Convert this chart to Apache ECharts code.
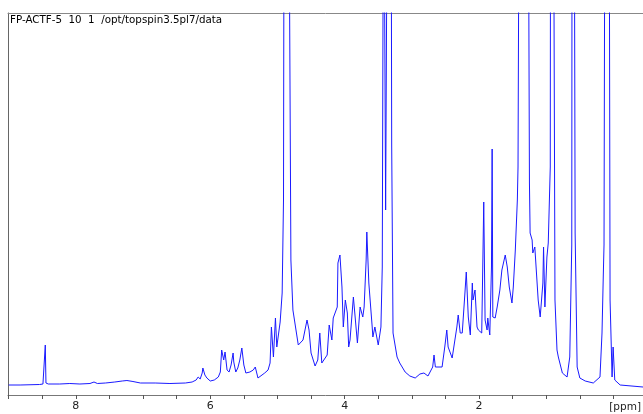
<!DOCTYPE html>
<html>
<head>
<meta charset="utf-8">
<script src="https://cdn.jsdelivr.net/npm/echarts@6/dist/echarts.min.js"></script>
<style>
  html, body { margin: 0; padding: 0; background: #fff; }
  #chart { width: 643px; height: 414px; }
</style>
</head>
<body>
<div id="chart"></div>
<script>
// chemical shift (ppm) from left to right
let shifts = [
    9.00, 8.83, 8.54, 8.49, 8.465, 8.455, 8.445, 8.41, 8.24, 8.09, 7.94, 7.79, 7.73, 7.68,
    7.56, 7.42, 7.31, 7.24, 7.15, 7.04, 6.82, 6.60, 6.37, 6.27, 6.21, 6.18, 6.15, 6.12,
    6.11, 6.08, 6.05, 6.00, 5.94, 5.88, 5.85, 5.83, 5.81, 5.80, 5.78, 5.75, 5.72, 5.69,
    5.66, 5.65, 5.62, 5.59, 5.56, 5.53, 5.50, 5.47, 5.41, 5.36, 5.33, 5.29, 5.23, 5.19,
    5.14, 5.11, 5.09, 5.06, 5.03, 5.01, 4.96, 4.93, 4.91, 4.90, 4.86, 4.83, 4.82, 4.80,
    4.77, 4.69, 4.62, 4.56, 4.53, 4.50, 4.44, 4.40, 4.37, 4.34, 4.26, 4.23, 4.19, 4.17,
    4.11, 4.10, 4.07, 4.04, 4.02, 3.99, 3.96, 3.94, 3.92, 3.87, 3.81, 3.77, 3.73, 3.71,
    3.68, 3.67, 3.64, 3.59, 3.58, 3.55, 3.50, 3.46, 3.44, 3.42, 3.405, 3.39, 3.36, 3.31,
    3.30, 3.28, 3.22, 3.18, 3.10, 3.03, 2.95, 2.88, 2.82, 2.76, 2.69, 2.67, 2.65, 2.55,
    2.51, 2.48, 2.46, 2.40, 2.33, 2.31, 2.28, 2.25, 2.21, 2.19, 2.18, 2.16, 2.13, 2.10,
    2.09, 2.06, 2.03, 2.01, 1.96, 1.94, 1.93, 1.91, 1.88, 1.87, 1.84, 1.815, 1.805, 1.795,
    1.76, 1.73, 1.69, 1.66, 1.61, 1.58, 1.55, 1.51, 1.49, 1.46, 1.45, 1.43, 1.42, 1.40,
    1.27, 1.25, 1.24, 1.21, 1.20, 1.17, 1.12, 1.09, 1.05, 1.04, 1.02, 0.99, 0.97, 0.94,
    0.935, 0.915, 0.895, 0.88, 0.87, 0.84, 0.82, 0.76, 0.69, 0.65, 0.62, 0.615, 0.60, 0.585,
    0.57, 0.54, 0.50, 0.42, 0.30, 0.20, 0.17, 0.15, 0.14, 0.125, 0.095, 0.065, 0.05, 0.02,
    0.005, -0.02, -0.10, -0.44
];

// intensity (arbitrary units); tall peaks run off the top of the plot
let intensities = [
    10, 10, 10.5, 11, 12, 50, 12, 11, 11, 11.5, 11, 11.5, 13, 11.5,
    12, 13, 14, 14.5, 13.5, 12, 12, 11.5, 12, 13, 15, 18, 16, 22,
    27, 20, 17, 14, 15, 18, 23, 45, 47, 35, 43, 25, 23, 30,
    42, 33, 23, 27, 35, 47, 30, 22, 23, 25, 28, 17, 20, 22,
    25, 32, 68, 38, 77, 48, 73, 102, 195, 600, 600, 600, 400, 135,
    85, 50, 55, 75, 65, 42, 29, 35, 62, 32, 40, 70, 55, 77,
    88, 132, 140, 108, 68, 95, 82, 48, 55, 98, 52, 88, 78, 88,
    135, 163, 112, 68, 58, 68, 50, 68, 128, 600, 600, 185, 600, 600,
    250, 62, 38, 32, 23, 19, 17, 21, 22, 19, 28, 40, 28, 28,
    48, 65, 48, 37, 68, 80, 62, 62, 102, 123, 122, 78, 60, 112,
    95, 105, 68, 65, 62, 148, 193, 75, 65, 77, 60, 128, 246, 78,
    77, 88, 105, 125, 140, 128, 108, 92, 108, 145, 162, 195, 228, 600,
    600, 212, 162, 155, 142, 148, 95, 78, 112, 148, 88, 138, 152, 228,
    600, 450, 600, 300, 95, 45, 38, 22, 18, 38, 150, 600, 450, 600,
    162, 28, 17, 14, 12, 18, 62, 122, 150, 600, 450, 600, 95, 18,
    48, 15, 10, 8
];

let tickValues = [0, 0.5, 1, 1.5, 2, 2.5, 3, 3.5, 4, 4.5, 5, 5.5, 6, 6.5, 7, 7.5, 8, 8.5, 9];
let labelValues = [2, 4, 6, 8];

let titleText = 'FP-ACTF-5  10  1  /opt/topspin3.5pl7/data';

let chart = echarts.init(document.getElementById('chart'));
chart.setOption(makeOptions());

function makeOptions() {
    let points = shifts.map(function (s, i) {
        return [s, intensities[i]];
    });
    return {
        animation: false,
        title: {
            text: titleText,
            left: 10,
            top: 15,
            padding: 0,
            textStyle: {
                fontFamily: 'DejaVu Sans',
                fontSize: 10.3,
                fontWeight: 'normal',
                color: '#000'
            }
        },
        graphic: [
            {
                type: 'text',
                right: 2,
                top: 402,
                style: {
                    text: '[ppm]',
                    fontFamily: 'DejaVu Sans',
                    fontSize: 10.5,
                    fill: '#222'
                }
            }
        ],
        grid: {
            left: 8,
            right: 0,
            top: 13,
            bottom: 19
        },
        xAxis: [
            {
                type: 'value',
                min: -0.44,
                max: 9.01,
                inverse: true,
                splitLine: { show: false },
                axisLine: { onZero: false, lineStyle: { color: '#777', width: 1 } },
                axisTick: {
                    customValues: tickValues,
                    length: 4,
                    lineStyle: { color: '#555' }
                },
                axisLabel: {
                    customValues: labelValues,
                    fontFamily: 'DejaVu Sans',
                    fontSize: 11,
                    color: '#222',
                    margin: 6
                }
            },
            {
                type: 'value',
                position: 'top',
                min: -0.44,
                max: 9.01,
                inverse: true,
                splitLine: { show: false },
                axisLine: { onZero: false, lineStyle: { color: '#888', width: 1 } },
                axisTick: { show: false },
                axisLabel: { show: false }
            }
        ],
        yAxis: {
            type: 'value',
            min: 0,
            max: 382,
            splitLine: { show: false },
            axisLine: { show: true, onZero: false, lineStyle: { color: '#666', width: 1 } },
            axisTick: { show: false },
            axisLabel: { show: false }
        },
        series: [
            {
                type: 'line',
                data: points,
                showSymbol: false,
                clip: true,
                lineStyle: { color: '#1a1aff', width: 1 }
            }
        ]
    };
}
</script>
</body>
</html>
